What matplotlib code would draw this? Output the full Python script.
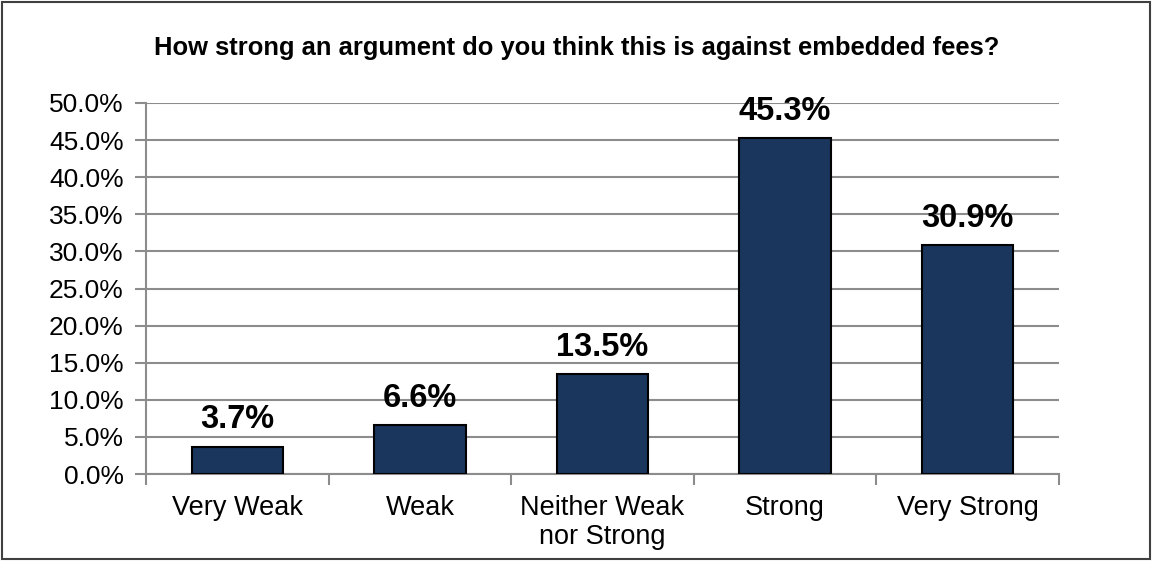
import numpy as np
import matplotlib.pyplot as plt
from matplotlib.patches import Rectangle
from matplotlib.ticker import FuncFormatter, FixedLocator

plt.rcParams['font.family'] = ['Liberation Sans', 'DejaVu Sans']

categories = ["Very Weak", "Weak", "Neither Weak\nnor Strong", "Strong", "Very Strong"]
values = [3.7, 6.6, 13.5, 45.3, 30.9]
y_ticks = [0, 5, 10, 15, 20, 25, 30, 35, 40, 45, 50]
title = "How strong an argument do you think this is against embedded fees?"

bar_color = "#1a365d"
grid_color = "#8c8c8c"

fig = plt.figure(figsize=(11.53, 5.61), dpi=100)
ax = fig.add_axes([0.1266, 0.155, 0.7919, 0.6614])

x = np.arange(len(categories))
ax.bar(x, values, width=0.5, color=bar_color, edgecolor="black", linewidth=1.5, zorder=3)

# value labels above the bars
for xi, v in zip(x, values):
    ax.annotate(f"{v:.1f}%", (xi, v), xytext=(0, 8), textcoords="offset points",
                ha="center", va="bottom", fontsize=23.5, fontweight="bold", zorder=4)

ax.set_xlim(-0.5, len(categories) - 0.5)
ax.set_ylim(0, 50)
ax.set_yticks(y_ticks)
ax.yaxis.set_major_formatter(FuncFormatter(lambda v, p: f"{v:.1f}%"))
ax.yaxis.grid(True, color=grid_color, linewidth=1.5, zorder=0)

ax.set_xticks(x)
ax.set_xticklabels(categories, fontsize=19.5, linespacing=1.15)
ax.xaxis.set_minor_locator(FixedLocator(np.arange(-0.5, len(categories), 1.0)))
ax.tick_params(axis="x", which="major", length=0, pad=15)
ax.tick_params(axis="x", which="minor", length=8, width=1.5, color=grid_color)
ax.tick_params(axis="y", length=8, width=1.5, color=grid_color, labelsize=19, pad=8)

for side in ["top", "right"]:
    ax.spines[side].set_visible(False)
for side in ["left", "bottom"]:
    ax.spines[side].set_color(grid_color)
    ax.spines[side].set_linewidth(1.5)

fig.text(0.5, 0.915, title, ha="center", va="center", fontsize=18.4, fontweight="bold")

# outer chart border
fig.patches.append(Rectangle((0.002, 0.004), 0.995, 0.993, transform=fig.transFigure,
                             fill=False, edgecolor="#404040", linewidth=1.5))

fig.savefig("out.png", dpi=100)
